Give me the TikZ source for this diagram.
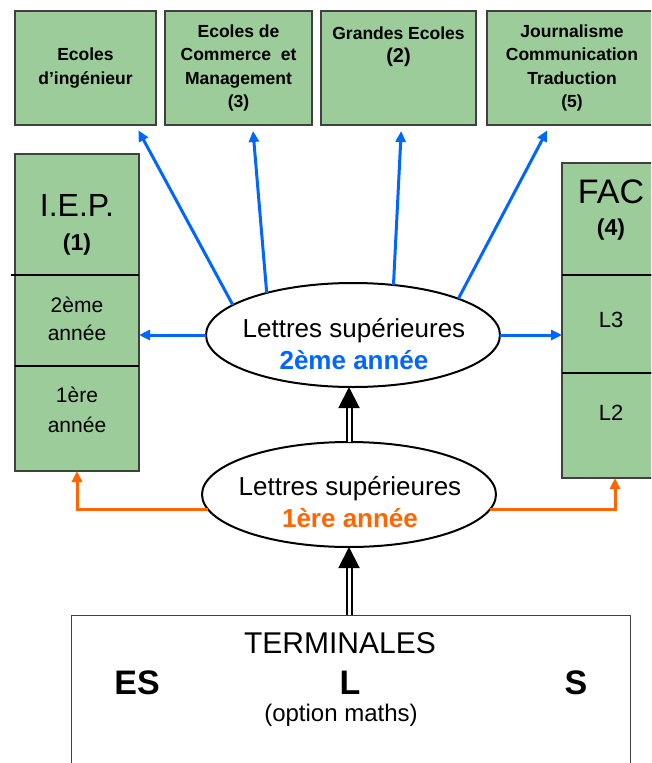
\documentclass[tikz,border=0pt]{standalone}
\usepackage{fontspec}
\setmainfont{Liberation Sans}
\usetikzlibrary{arrows.meta,shapes.geometric,positioning}

\definecolor{boxgreen}{RGB}{155,204,153}
\definecolor{boxedge}{RGB}{64,64,64}
\definecolor{lsblue}{RGB}{0,102,255}
\definecolor{lsorange}{RGB}{255,102,0}

\newcommand{\fsz}[2]{\fontsize{#1}{#2}\selectfont}

\begin{document}
\begin{tikzpicture}[x=1pt,y=-1pt,outer sep=0pt,
    greenbox/.style={rectangle,draw=boxedge,line width=1.4pt,fill=boxgreen,inner sep=0pt},
    topbox/.style={greenbox,minimum height=114pt,align=center,font=\fsz{17.5}{23.5}\bfseries},
    iepcell/.style={greenbox,minimum width=124pt},
    faccell/.style={greenbox,minimum width=98pt},
    celltext/.style={align=center,inner sep=0pt},
    divline/.style={line width=2pt,black},
    lsbox/.style={ellipse,draw=black,line width=2pt,fill=white,inner sep=0pt,
      minimum width=294pt,minimum height=104pt},
    lstext/.style={align=center,inner sep=0pt,font=\fsz{26}{32}},
    bluearrow/.style={draw=lsblue,line width=3pt,-{Triangle[length=11pt,width=10pt]}},
    orangearrow/.style={draw=lsorange,line width=3pt,-{Triangle[length=11pt,width=10pt]}},
    dblarrow/.style={double,double distance=3pt,line width=2pt,
      -{Triangle[length=21pt,width=21pt]}}]
  \useasboundingbox (0,0) rectangle (651,763);
  \clip (0,0) rectangle (651,763);

  % top row
  \node[topbox,minimum width=141pt] (ing) at (85.5,68) {Ecoles\\d’ingénieur};
  \node[topbox,minimum width=147pt] (com) at (238.5,68) {Ecoles de\\Commerce~ et\\Management\\(3)};
  \node[topbox,minimum width=155pt] (ge) at (398.5,68)
    {Grandes Ecoles\\{\fsz{20}{23.5}(2)}\\\mbox{}\\\mbox{}};
  \node[topbox,minimum width=170pt] (jour) at (572,68) {Journalisme\\Communication\\Traduction\\(5)};

  % I.E.P. column
  \node[iepcell,minimum height=121pt] (iephead) at (77,214.5) {};
  \node[iepcell,minimum height=91pt,below=0pt of iephead] (iep2) {};
  \node[iepcell,minimum height=105pt,below=0pt of iep2] (iep1) {};
  \draw[divline] ([xshift=-4pt]iep2.north west) -- (iep2.north east);
  \draw[divline] (iep1.north west) -- (iep1.north east);
  \node[celltext,font=\fsz{32}{36}] (iepname) at (77,205) {I.E.P.};
  \node[celltext,font=\fsz{23}{26}\bfseries] (iepnum) at (77,245) {(1)};
  \node[celltext,font=\fsz{21}{28}] (iep2t) at (77,319) {2ème\\année};
  \node[celltext,font=\fsz{21}{30}] (iep1t) at (77,410) {1ère\\année};

  % FAC column
  \node[faccell,minimum height=112pt] (fachead) at (611,219) {};
  \node[faccell,minimum height=98pt,below=0pt of fachead] (facl3) {};
  \node[faccell,minimum height=105pt,below=0pt of facl3] (facl2) {};
  \draw[divline] (facl3.north west) -- (facl3.north east);
  \draw[divline] (facl2.north west) -- (facl2.north east);
  \node[celltext,font=\fsz{34}{38}] (facname) at (611,192) {FAC};
  \node[celltext,font=\fsz{23}{26}\bfseries] (facnum) at (611,230) {(4)};
  \node[celltext,font=\fsz{22}{26}] (facl3t) at (611,320) {L3};
  \node[celltext,font=\fsz{22}{26}] (facl2t) at (611,413) {L2};

  % Lettres superieures
  \node[lsbox] (ls2) at (353,335) {};
  \node[lstext] (ls2t) at (354,344) {Lettres supérieures\\\textcolor{lsblue}{\bfseries 2ème année}};
  \node[lsbox,minimum width=294pt,minimum height=105pt] (ls1) at (349,494.5) {};
  \node[lstext] (ls1t) at (350,502) {Lettres supérieures\\\textcolor{lsorange}{\bfseries 1ère année}};

  % Terminales
  \node[rectangle,draw=boxedge,line width=1pt,minimum width=559pt,minimum height=200pt] (term) at (350.5,715) {};
  \node[celltext,font=\fsz{30}{34}] (termt) at (340,643) {TERMINALES};
  \node[celltext,font=\fsz{34}{38}\bfseries] (tes) at (137,683) {ES};
  \node[celltext,font=\fsz{34}{38}\bfseries] (tl) at (350,683) {L};
  \node[celltext,font=\fsz{34}{38}\bfseries] (ts) at (576,683) {S};
  \node[celltext,font=\fsz{24}{28}] (topt) at (341,715) {(option maths)};

  % connectors
  \foreach \ang/\dest/\dx in {166/ing/50,154/com/14,51/ge/3,19/jour/-22}
    \draw[bluearrow,shorten >=6pt] (ls2.\ang) -- ([xshift=\dx pt]\dest.south);
  \draw[bluearrow] (ls2.west) -- (ls2.west -| iep2.east);
  \draw[bluearrow] (ls2.east) -- (ls2.east -| facl3.west);
  \draw[orangearrow] (ls1.186) -| (iep1.south);
  \draw[orangearrow] (ls1.-6) -| ([xshift=4pt]facl2.south);
  \draw[dblarrow] (ls1.north) -- (ls1.north |- ls2.south);
  \draw[dblarrow] (term.north -| ls1.north) -- (ls1.south);
\end{tikzpicture}
\end{document}
